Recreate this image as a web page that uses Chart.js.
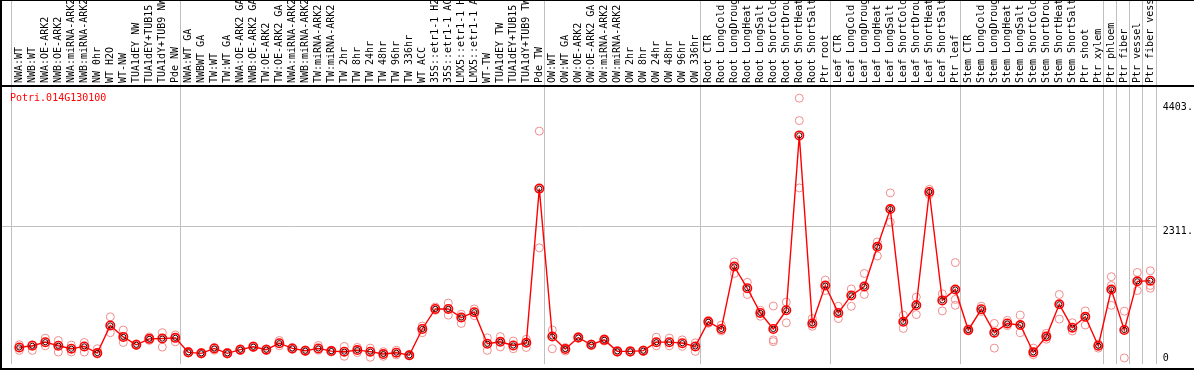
<!DOCTYPE html>
<html>
<head>
<meta charset="utf-8">
<script src="https://cdn.jsdelivr.net/npm/chart.js"></script>
<style>
  html, body { margin: 0; padding: 0; background: #fff; }
  canvas { display: block; }
</style>
</head>
<body>
<canvas id="expr" width="1194" height="370"></canvas>
<script>
// gene shown in the plot
const geneName = 'Potri.014G130100';

// sample names (one column each)
const samples = [
  'NWA:WT', 'NWB:WT', 'NWA:OE-ARK2', 'NWB:OE-ARK2', 'NWA:miRNA-ARK2', 'NWB:miRNA-ARK2', 'NW 0hr',
  'WT H2O', 'WT-NW', 'TUA1dEY NW', 'TUA1dEY+TUB15', 'TUA1dY+TUB9 NW', 'Pde NW',
  'NWA:WT GA', 'NWBWT GA', 'TW:WT', 'TW:WT GA', 'NWA:OE-ARK2 GA', 'NWB:OE-ARK2 GA', 'TW:OE-ARK2',
  'TW:OE-ARK2 GA', 'NWA:miRNA-ARK2', 'NWB:miRNA-ARK2', 'TW:miRNA-ARK2', 'TW:miRNA-ARK2',
  'TW 2hr', 'TW 8hr', 'TW 24hr', 'TW 48hr', 'TW 96hr', 'TW 336hr', 'WT ACC',
  '35S::etr1-1 H2O', '35S::etr1-1 ACC', 'LMX5::etr1-1 H2O', 'LMX5::etr1-1 ACC',
  'WT-TW', 'TUA1dEY TW', 'TUA1dEY+TUB15', 'TUA1dY+TUB9 TW', 'Pde TW',
  'OW:WT', 'OW:WT GA', 'OW:OE-ARK2', 'OW:OE-ARK2 GA', 'OW:miRNA-ARK2', 'OW:miRNA-ARK2',
  'OW 2hr', 'OW 8hr', 'OW 24hr', 'OW 48hr', 'OW 96hr', 'OW 336hr',
  'Root CTR', 'Root LongCold', 'Root LongDrought', 'Root LongHeat', 'Root LongSalt',
  'Root ShortCold', 'Root ShortDrought', 'Root ShortHeat', 'Root ShortSalt', 'Ptr root',
  'Leaf CTR', 'Leaf LongCold', 'Leaf LongDrought', 'Leaf LongHeat', 'Leaf LongSalt',
  'Leaf ShortCold', 'Leaf ShortDrought', 'Leaf ShortHeat', 'Leaf ShortSalt', 'Ptr leaf',
  'Stem CTR', 'Stem LongCold', 'Stem LongDrought', 'Stem LongHeat', 'Stem LongSalt',
  'Stem ShortCold', 'Stem ShortDrought', 'Stem ShortHeat', 'Stem ShortSalt', 'Ptr shoot', 'Ptr xylem',
  'Ptr phloem', 'Ptr fiber', 'Ptr vessel', 'Ptr fiber vessel'
];

// mean expression per sample
const meanExpr = [
  262, 290, 351, 290, 240, 279, 167, 634, 440, 307, 407, 412, 424,
  179, 162, 245, 162, 224, 274, 224, 334, 245, 207, 245, 200, 190, 217, 190, 150, 173, 129, 574,
  913, 913, 768, 858, 324, 357, 295, 340, 2950,
  446, 234, 429, 307, 390, 195, 195, 207, 351, 351, 334, 279,
  696, 574, 1631, 1264, 846, 574, 891, 3851, 668, 1309,
  846, 1142, 1292, 1965, 2604, 696, 975, 2894, 1058, 1242,
  557, 908, 512, 668, 641, 179, 446, 992, 596, 780, 290,
  1242, 557, 1381, 1392
];

// replicate values (upper / lower / extra)
const repHigh = [
  307, 307, 418, 379, 302, 346, 240, 780, 557, 320, 440, 512, 474,
  195, 175, 260, 175, 240, 290, 240, 379, 260, 220, 295, 215, 279, 262, 250, 190, 215, 140, 624,
  945, 1013, 824, 913, 424, 446, 370, 400, 3923,
  557, 260, 445, 320, 410, 210, 210, 220, 434, 420, 390, 340,
  720, 640, 1709, 1364, 890, 963, 1030, 4481, 750, 1402,
  958, 1252, 1514, 2048, 2878, 808, 1114, 2938, 1169, 1698,
  575, 960, 668, 720, 808, 250, 500, 1158, 680, 880, 320,
  1459, 875, 1531, 1559
];
const repLow = [
  212, 212, 290, 184, 184, 184, 150, 512, 346, 295, 380, 267, 357,
  165, 150, 215, 150, 210, 260, 210, 290, 230, 195, 215, 185, 112, 175, 95, 112, 135, 120, 512,
  890, 808, 668, 800, 212, 270, 240, 260, 1948,
  240, 200, 415, 295, 370, 180, 180, 195, 290, 290, 280, 195,
  670, 540, 1514, 1158, 790, 390, 679, 2962, 620, 1225,
  751, 958, 1158, 1810, 2382, 584, 818, 2850, 880, 975,
  540, 870, 250, 630, 512, 140, 400, 741, 540, 641, 250,
  975, 84, 1225, 1264
];
const repExtra = [
  null, null, null, null, null, null, null, null, null, null, null, null, null,
  null, null, null, null, null, null, null, null, null, null, null, null, null, null, null, null, null, null, null,
  null, null, null, null, null, null, null, null, null,
  null, null, null, null, null, null, null, null, null, null, null, null,
  null, null, null, null, null, 360, null, 4102, null, null,
  null, null, null, null, null, null, null, null, null, 1075,
  null, null, null, null, null, null, null, null, null, null, null,
  1309, null, null, 1310
];

// first sample of each block (grey separators)
const groupStarts = [0, 13, 41, 53, 63, 73, 84, 85, 86, 87];

// right-hand axis labels
const yTickValues = [4403, 2311, 0];
const yTickLabels = ['4403.', '2311.', '0'];

const monoFont = '"DejaVu Sans Mono", monospace';

const framePlugin = {
  id: 'frame',
  beforeDatasetsDraw(chart) {
    const { ctx, chartArea: a, scales: { x, y } } = chart;
    const W = chart.width, H = chart.height;
    const slot = x.width / samples.length;
    ctx.save();
    ctx.strokeStyle = '#c0c0c0';
    ctx.lineWidth = 1;
    ctx.beginPath();
    groupStarts.forEach(i => {
      const px = Math.round(x.getPixelForValue(i) - slot * 0.66) + 0.5;
      ctx.moveTo(px, 0);
      ctx.lineTo(px, a.bottom);
    });
    const rx = Math.round(a.right) - 0.5;
    ctx.moveTo(rx, 0);
    ctx.lineTo(rx, a.bottom);
    const gy = Math.round(y.getPixelForValue(yTickValues[1])) + 0.5;
    ctx.moveTo(2, gy);
    ctx.lineTo(rx, gy);
    ctx.stroke();

    ctx.fillStyle = '#000';
    ctx.fillRect(0, 0, W, 1);
    ctx.fillRect(0, 85, W, 2);
    ctx.fillRect(0, H - 2, W, 2);
    ctx.fillRect(0, 0, 2, H);
    ctx.restore();
  },
  afterDraw(chart) {
    const { ctx, chartArea: a, scales: { y } } = chart;
    ctx.save();
    ctx.font = '10px ' + monoFont;
    ctx.fillStyle = '#ff0000';
    ctx.textBaseline = 'alphabetic';
    ctx.textAlign = 'left';
    ctx.fillText(geneName, 10, 101);

    ctx.fillStyle = '#000';
    yTickValues.forEach((v, i) => {
      let py = y.getPixelForValue(v);
      if (v === 0) {
        ctx.textBaseline = 'bottom';
        py = a.bottom - 1;
      } else {
        ctx.textBaseline = 'top';
      }
      ctx.fillText(yTickLabels[i], a.right + 6, py);
    });
    ctx.restore();
  }
};

new Chart(document.getElementById('expr'), {
  type: 'line',
  data: {
    labels: samples,
    datasets: [
      {
        label: 'mean ring',
        data: meanExpr,
        showLine: false,
        pointRadius: 2.6,
        pointBorderWidth: 1,
        pointBorderColor: '#300000',
        pointBackgroundColor: 'rgba(0,0,0,0)'
      },
      {
        label: 'mean',
        data: meanExpr,
        borderColor: '#ff0000',
        borderWidth: 1.4,
        tension: 0,
        pointRadius: 4.2,
        pointBorderWidth: 1.6,
        pointBorderColor: '#ff0000',
        pointBackgroundColor: 'rgba(0,0,0,0)'
      },
      {
        label: 'rep high',
        data: repHigh,
        showLine: false,
        pointRadius: 4,
        pointBorderWidth: 1,
        pointBorderColor: '#f08c8c',
        pointBackgroundColor: 'rgba(0,0,0,0)'
      },
      {
        label: 'rep low',
        data: repLow,
        showLine: false,
        pointRadius: 4,
        pointBorderWidth: 1,
        pointBorderColor: '#f08c8c',
        pointBackgroundColor: 'rgba(0,0,0,0)'
      },
      {
        label: 'rep extra',
        data: repExtra,
        showLine: false,
        pointRadius: 4,
        pointBorderWidth: 1,
        pointBorderColor: '#f08c8c',
        pointBackgroundColor: 'rgba(0,0,0,0)'
      }
    ]
  },
  options: {
    responsive: false,
    devicePixelRatio: 1,
    animation: false,
    layout: { padding: { left: 12.8, right: 37.2, top: 0, bottom: 2 } },
    plugins: {
      legend: { display: false },
      tooltip: { enabled: false },
      title: { display: false }
    },
    scales: {
      x: {
        type: 'category',
        position: 'top',
        offset: true,
        grid: { display: false, drawTicks: false },
        border: { display: false },
        ticks: {
          autoSkip: false,
          minRotation: 90,
          maxRotation: 90,
          padding: 2,
          labelOffset: 12,
          color: '#000',
          font: { family: monoFont, size: 10 }
        },
        afterFit(scale) { scale.height = 85; }
      },
      y: {
        display: false,
        min: -22,
        max: 4704
      }
    }
  },
  plugins: [framePlugin]
});
</script>
</body>
</html>
